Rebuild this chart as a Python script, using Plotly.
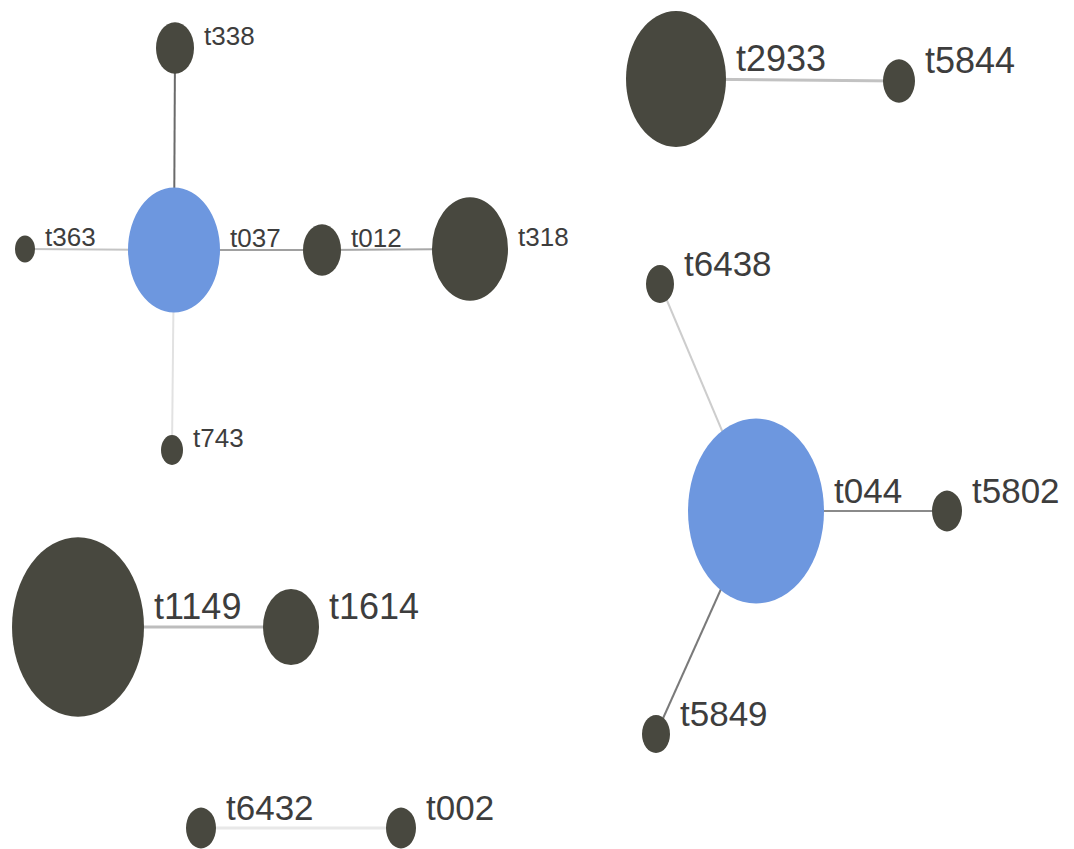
import plotly.graph_objects as go

# Node layout (canvas px coordinates), node diameter and group
node_names = ["t037", "t338", "t363", "t012", "t318", "t743",
              "t2933", "t5844",
              "t044", "t6438", "t5802", "t5849",
              "t1149", "t1614",
              "t6432", "t002"]
node_x = [174, 175, 25, 322, 470, 172,
          676, 899,
          756, 660, 947, 656,
          78, 291,
          201, 401]
node_y = [250, 48, 249, 250, 249, 450,
          79, 81,
          511, 284, 511, 734,
          627, 627,
          828, 828]
node_d = [92, 38, 20, 38, 76, 22,
          100, 32,
          136, 28, 30, 28,
          132, 56,
          30, 30]
node_group = ["founder", "other", "other", "other", "other", "other",
              "other", "other",
              "founder", "other", "other", "other",
              "other", "other",
              "other", "other"]
node_cluster = [1, 1, 1, 1, 1, 1, 2, 2, 3, 3, 3, 3, 4, 4, 5, 5]

edges = [("t037", "t338"), ("t037", "t363"), ("t037", "t012"),
         ("t012", "t318"), ("t037", "t743"),
         ("t2933", "t5844"),
         ("t044", "t6438"), ("t044", "t5802"), ("t044", "t5849"),
         ("t1149", "t1614"),
         ("t6432", "t002")]
edge_shade = ["#6a6a6a", "#c4c4c4", "#a0a0a0", "#a8a8a8", "#e2e2e2",
              "#c2c2c2",
              "#cdcdcd", "#8a8a8a", "#7a7a7a",
              "#bdbdbd",
              "#e8e8e8"]
edge_width = [2, 2, 2, 2, 2, 3, 2, 2, 2, 3, 3]

W, H = 1074, 849
ASPECT = 1.36  # vertical stretch of node ellipses
FILL = {"founder": "#6d97df", "other": "#48483f"}
LABEL_FONT = {1: 26, 2: 36, 3: 35, 4: 36, 5: 35}

idx = {n: i for i, n in enumerate(node_names)}

fig = go.Figure()

for (a, b), col, lw in zip(edges, edge_shade, edge_width):
    i, j = idx[a], idx[b]
    fig.add_trace(go.Scatter(
        x=[node_x[i], node_x[j]], y=[node_y[i], node_y[j]],
        mode="lines", line=dict(color=col, width=lw),
        hoverinfo="skip", showlegend=False))

shapes = []
annotations = []
for n, x, y, d, g, c in zip(node_names, node_x, node_y, node_d, node_group, node_cluster):
    rx, ry = d / 2, d * ASPECT / 2
    shapes.append(dict(type="circle", xref="x", yref="y",
                       x0=x - rx, x1=x + rx, y0=y - ry, y1=y + ry,
                       fillcolor=FILL[g], line=dict(width=0), layer="above"))
    fs = LABEL_FONT[c]
    annotations.append(dict(
        x=x + rx, y=y, xref="x", yref="y", text=n, showarrow=False,
        xanchor="left", yanchor="middle",
        xshift=8, yshift=12 if fs < 30 else 21,
        font=dict(family="Liberation Sans, Arial, sans-serif",
                  size=fs, color="#3d3d3d")))

fig.update_layout(
    width=W, height=H,
    margin=dict(l=0, r=0, t=0, b=0),
    paper_bgcolor="white", plot_bgcolor="white",
    xaxis=dict(range=[0, W], visible=False, fixedrange=True),
    yaxis=dict(range=[H, 0], visible=False, fixedrange=True),
    shapes=shapes, annotations=annotations,
    showlegend=False,
)

fig.write_html("out.html")
